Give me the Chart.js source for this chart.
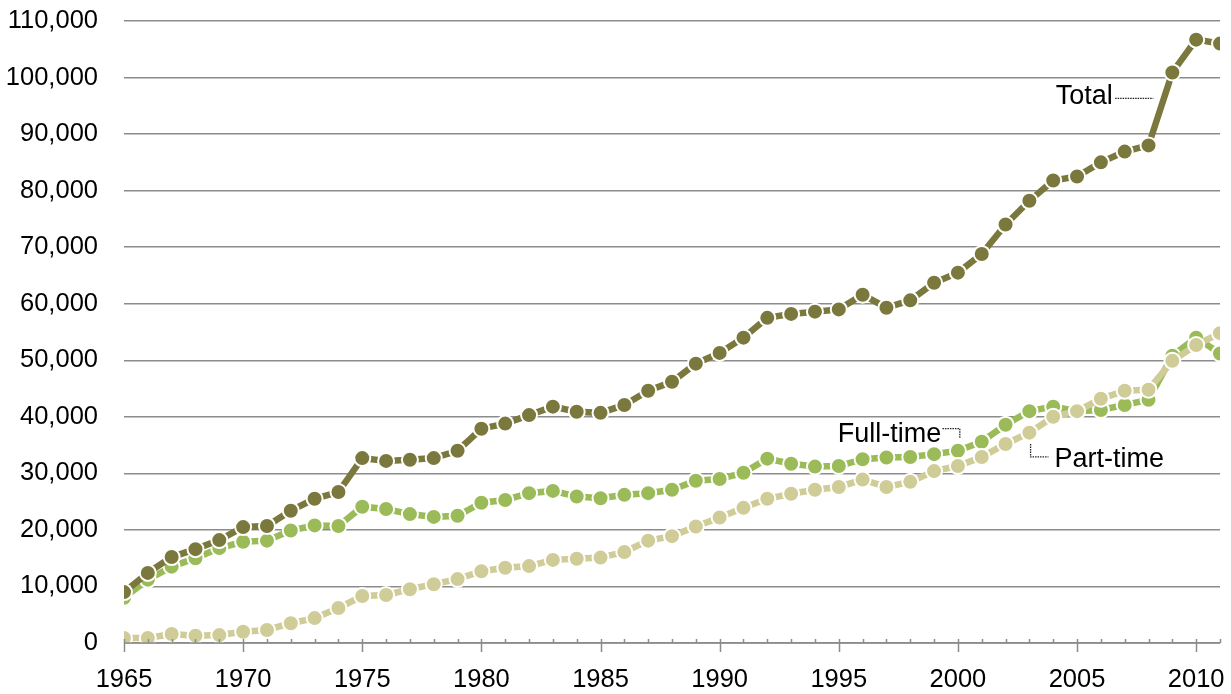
<!DOCTYPE html>
<html>
<head>
<meta charset="utf-8">
<script src="https://cdn.jsdelivr.net/npm/chart.js@4.4.0/dist/chart.umd.min.js"></script>
<style>
  html, body { margin: 0; padding: 0; background: #fff; }
  #wrap { width: 1231px; height: 694px; }
</style>
</head>
<body>
<div id="wrap"><canvas id="myChart" width="1231" height="694"></canvas></div>
<script>
const years = [1965, 1966, 1967, 1968, 1969, 1970, 1971, 1972, 1973, 1974,
  1975, 1976, 1977, 1978, 1979, 1980, 1981, 1982, 1983, 1984,
  1985, 1986, 1987, 1988, 1989, 1990, 1991, 1992, 1993, 1994,
  1995, 1996, 1997, 1998, 1999, 2000, 2001, 2002, 2003, 2004,
  2005, 2006, 2007, 2008, 2009, 2010, 2011];

const total = [9000, 12400, 15200, 16600, 18200, 20500, 20700, 23400, 25500, 26700,
  32700, 32200, 32400, 32700, 34000, 37900, 38800, 40300, 41800, 40900,
  40700, 42100, 44600, 46200, 49400, 51300, 54000, 57500, 58200, 58600,
  59000, 61600, 59300, 60600, 63700, 65500, 68800, 74000, 78200, 81800,
  82500, 85000, 86900, 88000, 100900, 106700, 106000];

const fullTime = [8000, 11200, 13500, 15000, 16800, 17900, 18100, 19900, 20800, 20700,
  24100, 23700, 22800, 22300, 22500, 24800, 25300, 26500, 26900, 25900,
  25600, 26200, 26500, 27100, 28700, 29000, 30100, 32600, 31700, 31200,
  31300, 32500, 32800, 32900, 33400, 34000, 35600, 38600, 41000, 41800,
  41000, 41200, 42100, 43000, 50800, 54000, 51200];

const partTime = [900, 900, 1600, 1300, 1400, 2000, 2300, 3500, 4400, 6200,
  8300, 8500, 9500, 10400, 11300, 12700, 13300, 13600, 14700, 14900,
  15100, 16100, 18100, 18900, 20600, 22200, 23900, 25500, 26400, 27100,
  27600, 28900, 27600, 28500, 30400, 31300, 32900, 35200, 37200, 40000,
  41000, 43200, 44600, 44800, 49900, 52700, 54800];

const seriesNames = ['Total', 'Part-time', 'Full-time'];
const yTicks = [0, 10000, 20000, 30000, 40000, 50000, 60000, 70000, 80000, 90000, 100000, 110000];

const FONT = "'Liberation Sans', Arial, sans-serif";
const FSIZE = 25.5;

function pts(vals) {
  return years.map((y, i) => ({ x: y, y: vals[i] }));
}

function series(label, vals, color) {
  return {
    label: label,
    data: pts(vals),
    borderColor: color,
    backgroundColor: color,
    borderWidth: 6.5,
    pointRadius: 8,
    pointBorderWidth: 2,
    pointBorderColor: '#ffffff',
    pointBackgroundColor: color,
    tension: 0,
  };
}

// x axis ticks (major every 5 years crossing the line, minor above it) and callout labels
const decor = {
  id: 'decor',
  afterDatasetsDraw(chart) {
    const ctx = chart.ctx;
    const xs = chart.scales.x;
    const ys = chart.scales.y;
    const y0 = ys.getPixelForValue(0);
    ctx.save();
    ctx.strokeStyle = '#8c8c8c';
    ctx.lineWidth = 1.5;
    ctx.beginPath();
    ctx.moveTo(xs.left, y0);
    ctx.lineTo(xs.right, y0);
    years.forEach(yr => {
      const px = Math.round(xs.getPixelForValue(yr)) + 0.5;
      if (yr % 5 === 0) {
        ctx.moveTo(px, y0 - 4);
        ctx.lineTo(px, y0 + 9);
      } else {
        ctx.moveTo(px, y0 - 4);
        ctx.lineTo(px, y0);
      }
    });
    ctx.stroke();

    ctx.fillStyle = '#000';
    ctx.font = '27px ' + FONT;
    ctx.textBaseline = 'middle';
    ctx.textAlign = 'right';
    const X = v => xs.getPixelForValue(v);
    const Y = v => ys.getPixelForValue(v);

    ctx.fillText('Total', X(2006.5), Y(96600));
    ctx.fillText('Full-time', X(1999.3), Y(36900));
    ctx.textAlign = 'left';
    ctx.fillText('Part-time', X(2004.05), Y(32400));

    ctx.strokeStyle = '#222';
    ctx.lineWidth = 1.3;
    ctx.setLineDash([1.5, 1]);
    ctx.beginPath();
    ctx.moveTo(X(2006.6), Y(96300));
    ctx.lineTo(X(2008.2), Y(96300));
    ctx.moveTo(X(1999.35), Y(37900));
    ctx.lineTo(X(2000.08), Y(37900));
    ctx.lineTo(X(2000.08), Y(36200));
    ctx.moveTo(X(2003.05), Y(35200));
    ctx.lineTo(X(2003.05), Y(32900));
    ctx.lineTo(X(2003.8), Y(32900));
    ctx.stroke();
    ctx.restore();
  }
};

new Chart(document.getElementById('myChart').getContext('2d'), {
  type: 'line',
  data: {
    datasets: [
      series(seriesNames[0], total, '#7a783c'),
      series(seriesNames[1], partTime, '#cfcc98'),
      series(seriesNames[2], fullTime, '#9bbb59'),
    ],
  },
  options: {
    responsive: false,
    animation: false,
    events: [],
    layout: { padding: { top: 21, right: 11, left: 0, bottom: 0 } },
    plugins: {
      legend: { display: false },
      title: { display: false },
      tooltip: { enabled: false },
    },
    scales: {
      x: {
        type: 'linear',
        min: 1965,
        max: 2011,
        grid: { display: false, drawTicks: false },
        border: { display: false },
        ticks: {
          stepSize: 5,
          includeBounds: false,
          padding: 22,
          color: '#000',
          font: { family: FONT, size: FSIZE },
          callback: v => String(v),
          maxRotation: 0,
        },
        afterFit: s => { s.height = 51; s.paddingLeft = 0; s.paddingRight = 0; },
      },
      y: {
        min: 0,
        max: 110000,
        afterBuildTicks: s => { s.ticks = yTicks.map(v => ({ value: v })); },
        grid: { color: '#8c8c8c', lineWidth: 1.5, drawTicks: true, tickLength: 26, tickColor: 'rgba(0,0,0,0)' },
        border: { display: false },
        ticks: {
          padding: 0,
          color: '#000',
          font: { family: FONT, size: FSIZE },
          callback: v => v.toLocaleString('en-US'),
        },
        afterFit: s => { s.width = 124; },
      },
    },
  },
  plugins: [decor],
});
</script>
</body>
</html>
